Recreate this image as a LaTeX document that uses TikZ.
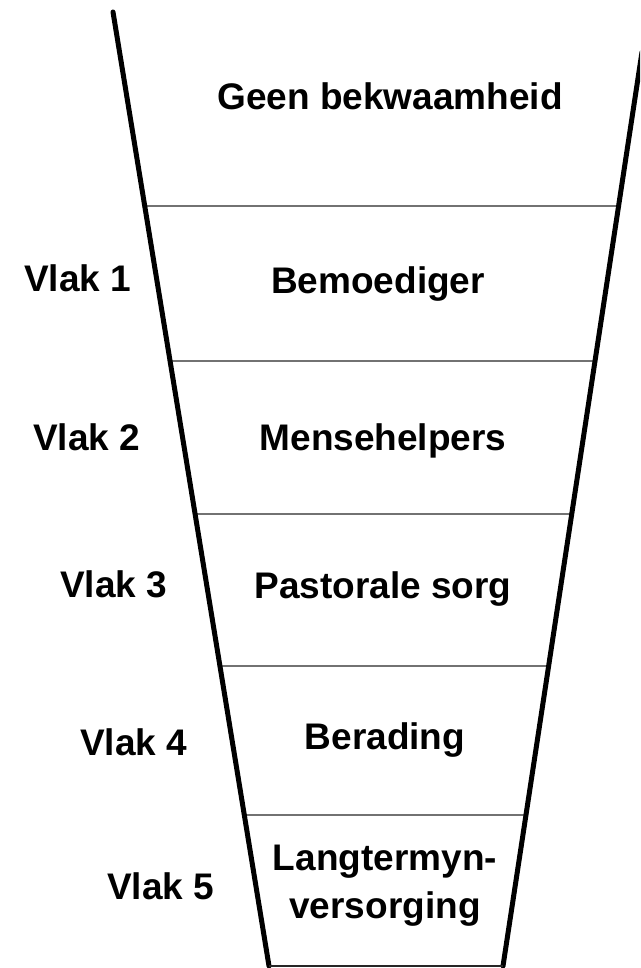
\documentclass[tikz,border=0pt]{standalone}
\usepackage{fontspec}
\setmainfont{Liberation Sans}
\usetikzlibrary{calc}
\begin{document}
\begin{tikzpicture}[x=1pt,y=-1pt,
  funnel/.style={line width=5pt,line cap=round,black},
  divider/.style={line width=1.4pt,black!85},
  lbl/.style={inner sep=0pt,font=\fontsize{37}{44}\selectfont\bfseries,anchor=base},
  vlak/.style={inner sep=0pt,font=\fontsize{37}{44}\selectfont\bfseries,anchor=base west}]
\useasboundingbox (0,0) rectangle (640,968);
\clip (0,0) rectangle (640,968);
% funnel corners
\coordinate (tl) at (113,12);
\coordinate (bl) at (269,966);
\coordinate (br) at (503,966);
\coordinate (tr) at (642,52);
% divider end points
\foreach \n/\y in {1/206,2/361,3/514,4/666,5/815}{
  \coordinate (l\n) at ($(tl)!{(\y-12)/954}!(bl)$);
  \coordinate (r\n) at ($(br)!{(966-\y)/914}!(tr)$);
  \draw[divider] (l\n) -- (r\n);
}
\draw[funnel] (tl) -- (bl);
\draw[funnel] (tr) -- (br);
\draw[line width=1.6pt,black!85] (bl) -- (br);
% texts
\node[lbl] (t0) at (390,110) {Geen bekwaamheid};
\node[lbl] (t1) at (378,293) {Bemoediger};
\node[lbl] (t2) at (383,450) {Mensehelpers};
\node[lbl] (t3) at (383,598) {Pastorale sorg};
\node[lbl] (t4) at (385,749) {Berading};
\node[lbl] (t5a) at (385,870) {Langtermyn-};
\node[lbl] (t5b) at (385,918) {versorging};
\node[vlak] (v1) at (24,291) {Vlak 1};
\node[vlak] (v2) at (33,450) {Vlak 2};
\node[vlak] (v3) at (60,597) {Vlak 3};
\node[vlak] (v4) at (80,755) {Vlak 4};
\node[vlak] (v5) at (107,899) {Vlak 5};
\end{tikzpicture}
\end{document}
